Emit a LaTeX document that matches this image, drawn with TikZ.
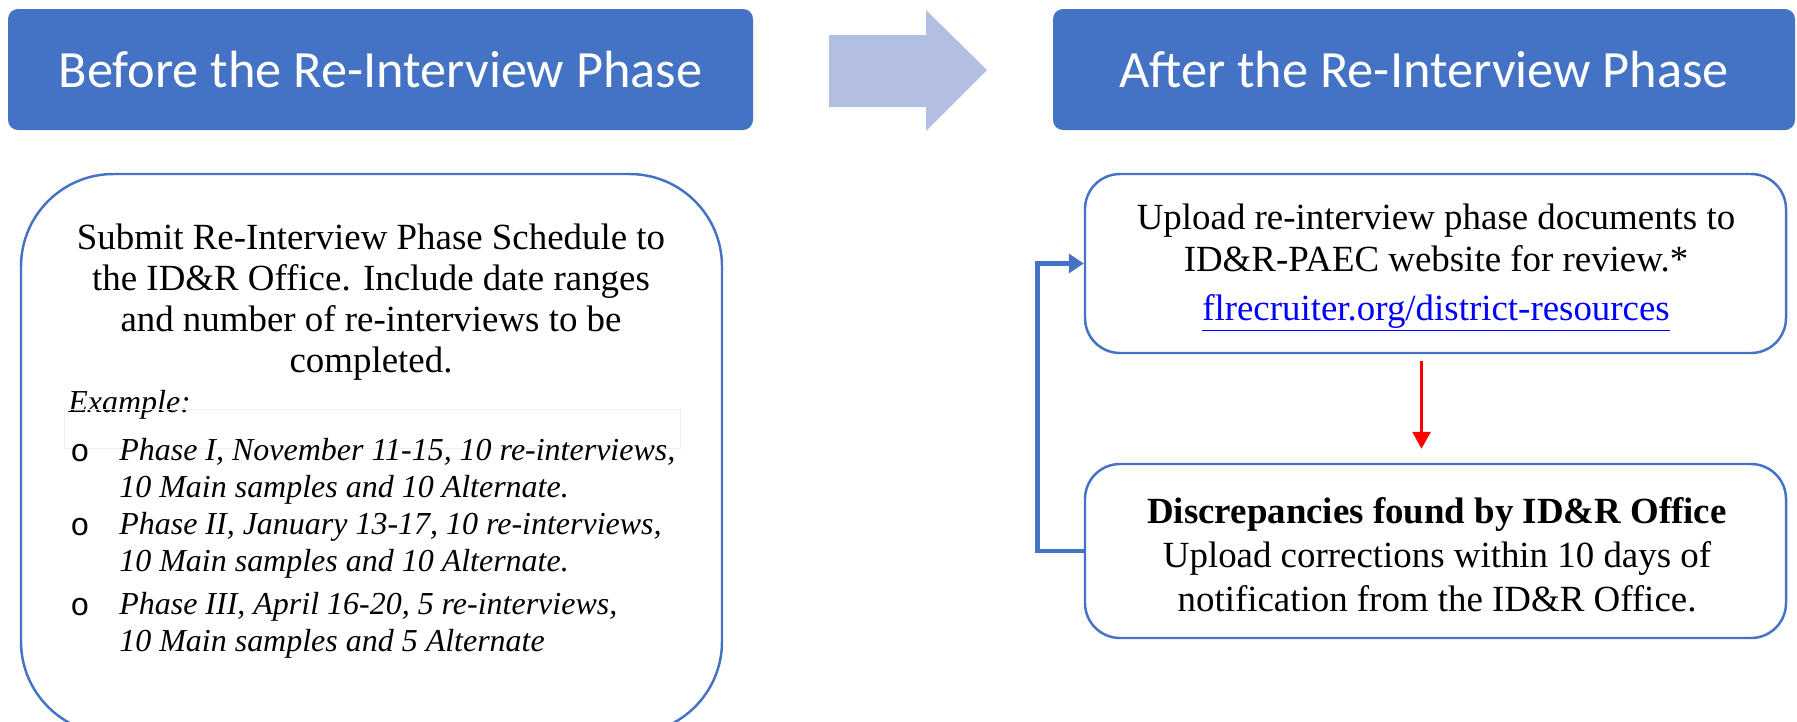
\documentclass[tikz,border=0pt]{standalone}
\usepackage{fontspec}
\setmainfont{Liberation Serif}
\setmonofont{Liberation Mono}
\newfontfamily\headfont{Carlito}
\usetikzlibrary{arrows.meta,positioning,fit}
\definecolor{accent}{RGB}{68,114,196}
\definecolor{pale}{RGB}{178,190,226}
\definecolor{faint}{RGB}{238,238,238}
\tikzset{
	header/.style = {fill = accent, rounded corners = 0.2cm, inner sep = 0mm},
	headtext/.style = {text = white, inner sep = 0mm, font = \headfont\fontsize{29.8}{32}\selectfont},
	plan/.style = {draw = accent, line width = 1.4pt, inner sep = 0mm},
	body/.style = {align = center, inner sep = 0mm, font = \fontsize{21}{23.4}\selectfont},
	item/.style = {align = left, inner sep = 0mm, font = \itshape\fontsize{18.2}{21.1}\selectfont},
	bullet/.style = {inner sep = 0mm, font = \ttfamily\fontsize{18.2}{21.1}\selectfont},
	back/.style = {draw = accent, line width = 2.8pt, -{Triangle[length = 0.3cm, width = 0.38cm]}},
	flow/.style = {draw = red, line width = 1.6pt, -{Triangle[length = 0.34cm, width = 0.36cm]}}
}

\begin{document}
\begin{tikzpicture}[x = 0.02cm, y = -0.02cm]
	\useasboundingbox (0, 0) rectangle (1797, 721);
	\clip (0, 0) rectangle (1797, 721);

	% headers
	\node [header, fit = {(8, 9) (753, 130)}] (before) {};
	\node [headtext] (beforetext) at (before.center) {Before the Re-Interview Phase};
	\node [header, fit = {(1053, 9) (1795, 130)}] (after) {};
	\node [headtext] (aftertext) at (after.center) {After the Re-Interview Phase};

	\fill [pale] (829, 35) -- (926, 35) -- (926, 10) -- (987, 70) -- (926, 131)
		-- (926, 107) -- (829, 107) -- cycle;

	% schedule
	\node [plan, rounded corners = 1.85cm, fit = {(21, 174) (722, 734)}] (schedule) {};
	\node [body] (submit) at (371, 302) {Submit Re-Interview Phase Schedule to\\the ID\&R Office. Include date ranges\\and number of re-interviews to be\\completed.};
	\node [item, anchor = west] (example) at (68, 405) {Example:};
	\draw [faint] (64, 409) rectangle (680, 448);

	\foreach \i/\y/\first/\second in {
		1/471/{Phase I, November 11-15, 10 re-interviews,}/{10 Main samples and 10 Alternate.},
		2/545/{Phase II, January 13-17, 10 re-interviews,}/{10 Main samples and 10 Alternate.},
		3/625/{Phase III, April 16-20, 5 re-interviews,}/{10 Main samples and 5 Alternate}}{
		\node [item, anchor = west] (phase\i) at (119, \y) {\first\\\second};
		\node [bullet] (dot\i) at (80, \y - 18) {o};
	}

	% after
	\node [plan, rounded corners = 0.7cm, fit = {(1085, 174) (1786, 353)}] (upload) {};
	\node [body] (uploadtext) at (1436, 268) {Upload re-interview phase documents to\\ID\&R-PAEC website for review.*\\[0.16cm]\textcolor{blue}{\underline{flrecruiter.org/district-resources}}};

	\node [plan, rounded corners = 0.7cm, fit = {(1085, 464) (1786, 638)}] (fix) {};
	\node [body, font = \fontsize{21}{25}\selectfont] (fixtext) at (1437, 555) {\textbf{Discrepancies found by ID\&R Office}\\Upload corrections within 10 days of\\notification from the ID\&R Office.};

	\draw [flow] ([xshift = -0.28cm, yshift = -0.14cm] upload.south) -- ([xshift = -0.28cm, yshift = 0.28cm] fix.north);
	\draw [back] (fix.west) -- ++(-46, 0) |- (upload.west);
\end{tikzpicture}
\end{document}
